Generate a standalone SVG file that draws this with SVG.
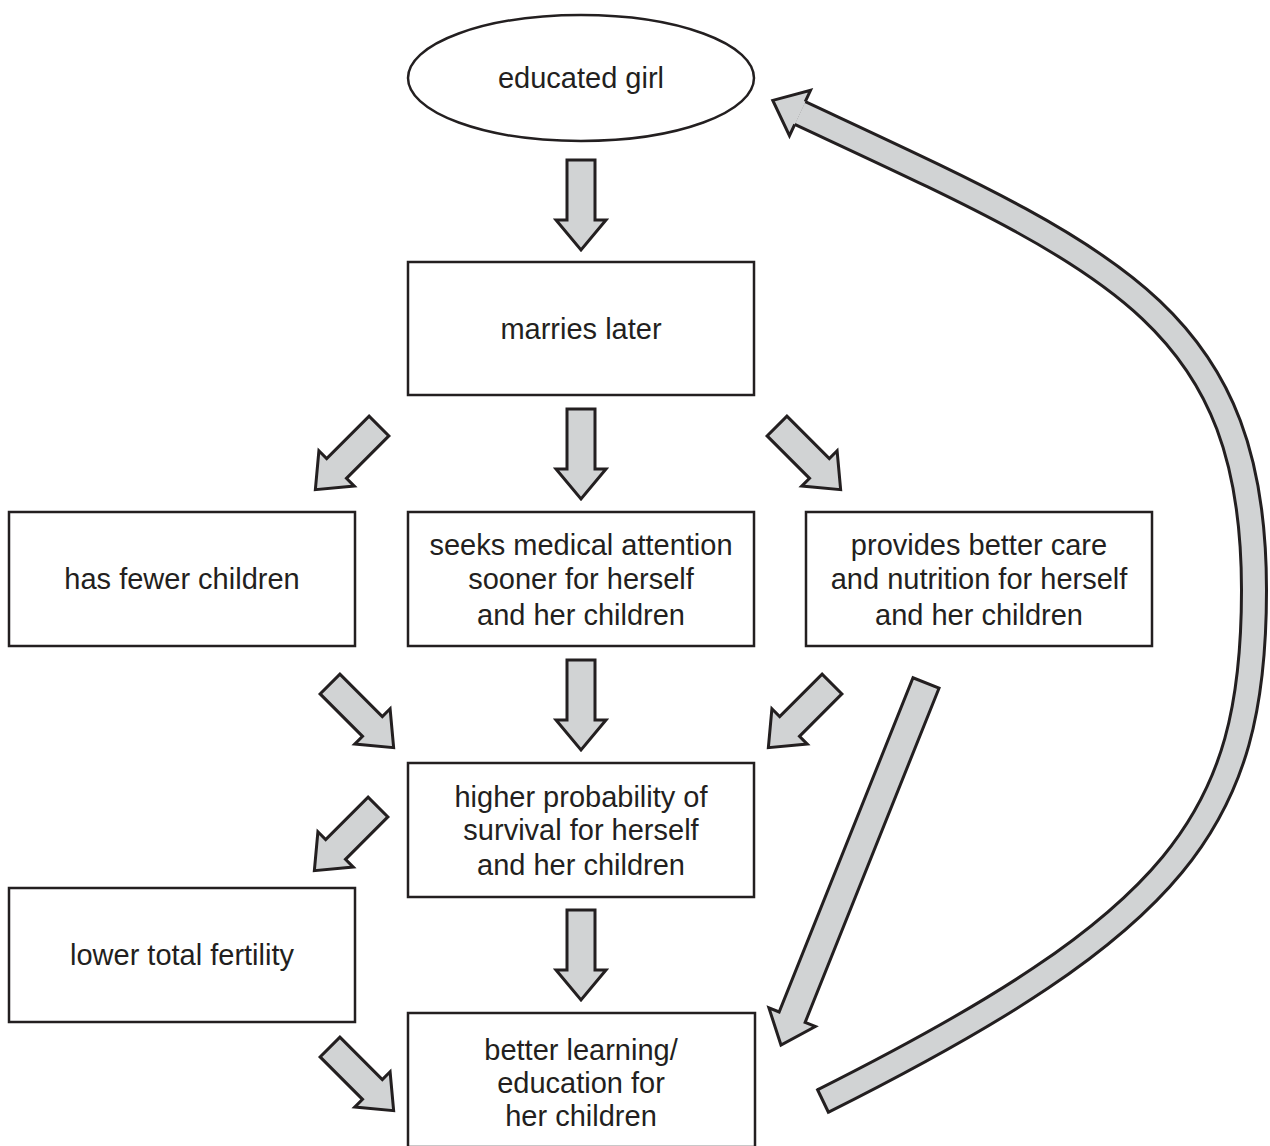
<svg xmlns="http://www.w3.org/2000/svg" width="1270" height="1146" viewBox="0 0 1270 1146">
<style>
.box{fill:#fff;stroke:#231f20;stroke-width:2.5}
.lbl{font-family:"Liberation Sans",Arial,Helvetica,sans-serif;font-size:29px;fill:#231f20;text-anchor:middle}
.arr{fill:#d1d3d4;stroke:#231f20;stroke-width:3;stroke-linejoin:miter}
</style>
<defs>
<path id="a90" d="M0,-14 H60 V-25 L90,0 L60,25 V14 H0 Z"/>
</defs>
<rect width="1270" height="1146" fill="#fff"/>
<g id="connectors">
<use href="#a90" class="arr" transform="translate(581,160) rotate(90)"/>
<use href="#a90" class="arr" transform="translate(581,409) rotate(90)"/>
<use href="#a90" class="arr" transform="translate(581,660) rotate(90)"/>
<use href="#a90" class="arr" transform="translate(581,910) rotate(90)"/>
<use href="#a90" class="arr" transform="translate(379,426) rotate(135)"/>
<use href="#a90" class="arr" transform="translate(777,426) rotate(45)"/>
<use href="#a90" class="arr" transform="translate(330,684) rotate(45)"/>
<use href="#a90" class="arr" transform="translate(832,684) rotate(135)"/>
<use href="#a90" class="arr" transform="translate(378,807) rotate(135)"/>
<use href="#a90" class="arr" transform="translate(330,1047) rotate(45)"/>
<path class="arr" transform="translate(926,683) rotate(111.83)" d="M0,-14 H360 V-25 L390,0 L360,25 V14 H0 Z"/>
<g id="loop">
<path d="M823,1101 C1180,922 1254,820 1254,590 C1254,315 1110,258 800,113" fill="none" stroke="#231f20" stroke-width="28"/>
<path d="M823,1101 C1180,922 1254,820 1254,590 C1254,315 1110,258 800,113" fill="none" stroke="#d1d3d4" stroke-width="22"/>
<line x1="817" y1="1088.5" x2="829" y2="1113.5" stroke="#231f20" stroke-width="3"/>
<g transform="translate(800,113) rotate(204.9)">
<path d="M0,-13 L0,-25 L30,0 L0,25 L0,13 Z" fill="#d1d3d4"/>
<path d="M0,-12.5 L0,-25 L30,0 L0,25 L0,12.5" fill="none" stroke="#231f20" stroke-width="3"/>
</g>
</g>
</g>
<g id="educated-girl">
<ellipse class="box" cx="581" cy="78" rx="173" ry="63"/>
<text class="lbl" x="581" y="88">educated girl</text>
</g>
<g id="marries-later">
<rect class="box" x="408" y="262" width="346" height="133"/>
<text class="lbl" x="581" y="339">marries later</text>
</g>
<g id="fewer-children">
<rect class="box" x="9" y="512" width="346" height="134"/>
<text class="lbl" x="182" y="589">has fewer children</text>
</g>
<g id="medical-attention">
<rect class="box" x="408" y="512" width="346" height="134"/>
<text class="lbl" x="581" y="555">seeks medical attention</text>
<text class="lbl" x="581" y="589">sooner for herself</text>
<text class="lbl" x="581" y="625">and her children</text>
</g>
<g id="better-care">
<rect class="box" x="806" y="512" width="346" height="134"/>
<text class="lbl" x="979" y="555">provides better care</text>
<text class="lbl" x="979" y="589">and nutrition for herself</text>
<text class="lbl" x="979" y="625">and her children</text>
</g>
<g id="survival">
<rect class="box" x="408" y="763" width="346" height="134"/>
<text class="lbl" x="581" y="807">higher probability of</text>
<text class="lbl" x="581" y="840">survival for herself</text>
<text class="lbl" x="581" y="875">and her children</text>
</g>
<g id="lower-fertility">
<rect class="box" x="9" y="888" width="346" height="134"/>
<text class="lbl" x="182" y="965">lower total fertility</text>
</g>
<g id="better-learning">
<rect class="box" x="408" y="1013" width="347" height="134"/>
<text class="lbl" x="581" y="1060">better learning/</text>
<text class="lbl" x="581" y="1093">education for</text>
<text class="lbl" x="581" y="1126">her children</text>
</g>
</svg>
